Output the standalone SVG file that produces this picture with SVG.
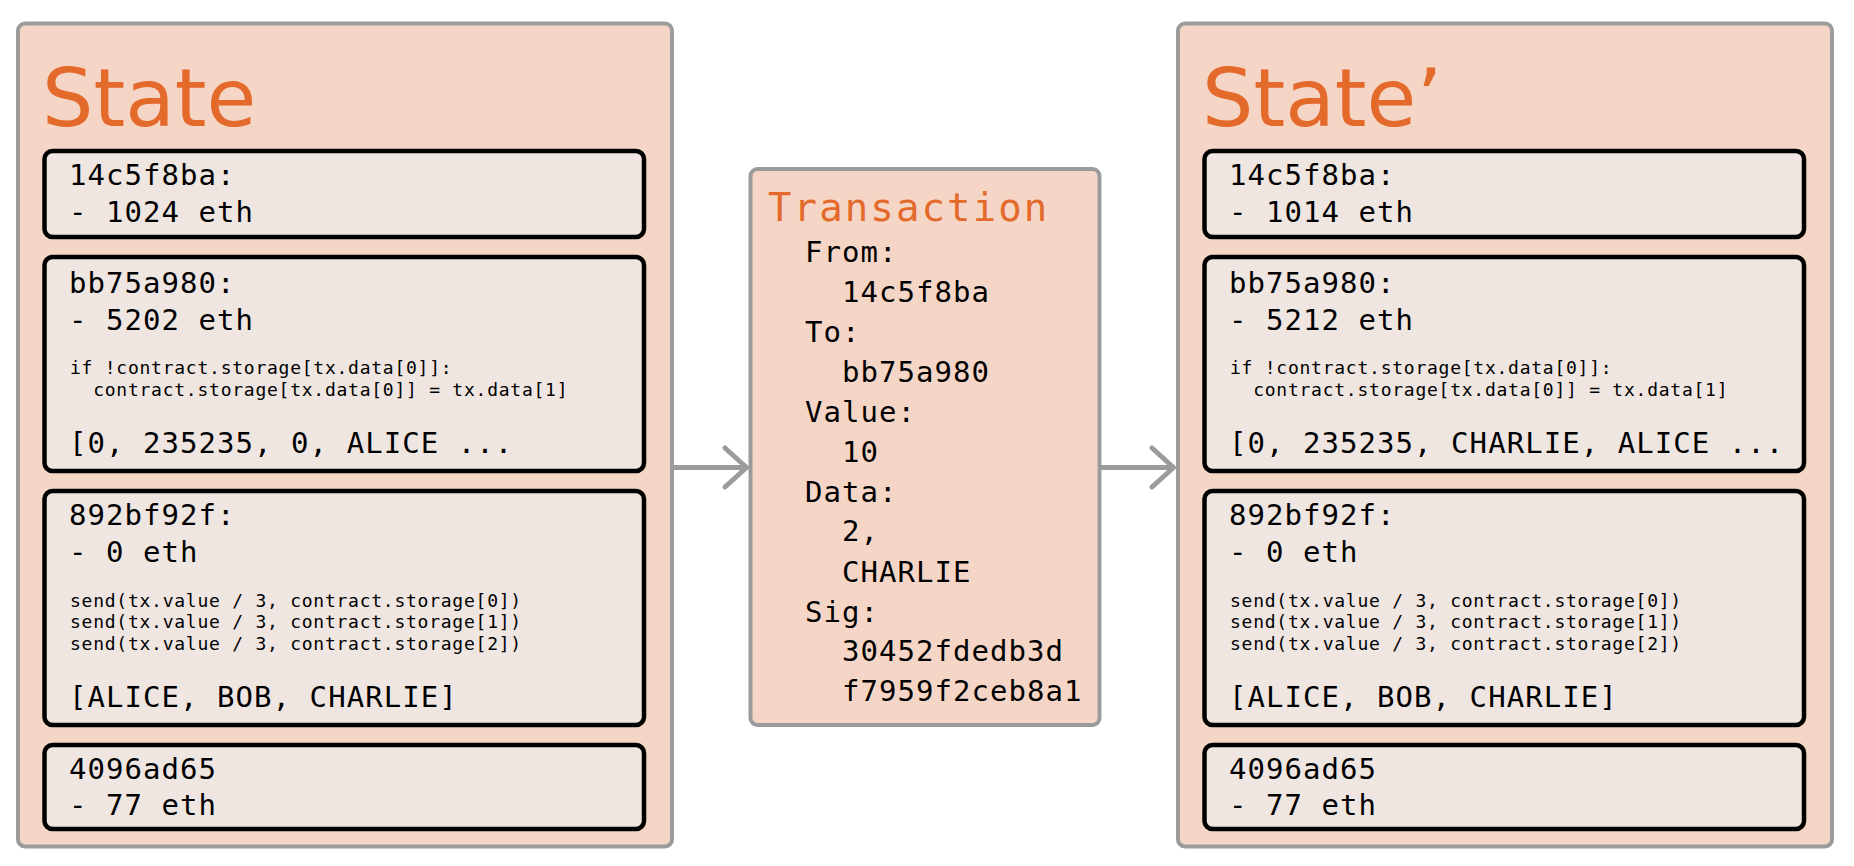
<svg xmlns="http://www.w3.org/2000/svg" width="1854" height="866" viewBox="0 0 1854 866">
<style>
.state{fill:#f5d6c6;stroke:#9b9b9b;stroke-width:4}
.acct{fill:#efe6e2;stroke:#000;stroke-width:4.5}
.title{font-family:"DejaVu Sans",Verdana,sans-serif;font-size:81px;fill:#e36a2a}
.m{font-family:"DejaVu Sans Mono","Liberation Mono",monospace;font-size:29px;letter-spacing:1.05px;fill:#000}
.c{font-size:18px;letter-spacing:0.75px}
.tt{font-family:"DejaVu Sans Mono","Liberation Mono",monospace;font-size:39px;letter-spacing:2.1px;fill:#e36a2a}
.conn{stroke:#9b9b9b;stroke-width:5;fill:none;stroke-linecap:round;stroke-linejoin:round}
</style>
<rect width="1854" height="866" fill="#fff"/>

<g id="connectors">
  <path class="conn" d="M672,467.5 H746"/>
  <path class="conn" d="M725,448 L746.5,467.5 L725,487"/>
  <path class="conn" d="M1099.5,467.5 H1173"/>
  <path class="conn" d="M1152,448 L1173.5,467.5 L1152,487"/>
</g>

<g id="state">
  <rect class="state" x="18" y="23.5" width="654" height="823" rx="7"/>
  <text class="title" x="42" y="126">State</text>
  <g id="state-14c5f8ba">
    <rect class="acct" x="44.5" y="151" width="599.5" height="86" rx="8"/>
    <text class="m" x="69" y="185">14c5f8ba:</text>
    <text class="m" x="69" y="221.5">- 1024 eth</text>
  </g>
  <g id="state-bb75a980">
    <rect class="acct" x="44.5" y="257" width="599.5" height="214" rx="8"/>
    <text class="m" x="69" y="293.3">bb75a980:</text>
    <text class="m" x="69" y="329.5">- 5202 eth</text>
    <text class="m c" x="70" y="374" xml:space="preserve">if !contract.storage[tx.data[0]]:</text>
    <text class="m c" x="70" y="395.7" xml:space="preserve">  contract.storage[tx.data[0]] = tx.data[1]</text>
    <text class="m" x="69" y="453">[0, 235235, 0, ALICE ...</text>
  </g>
  <g id="state-892bf92f">
    <rect class="acct" x="44.5" y="491" width="599.5" height="234" rx="8"/>
    <text class="m" x="69" y="525">892bf92f:</text>
    <text class="m" x="69" y="561.7">- 0 eth</text>
    <text class="m c" x="70" y="606.7">send(tx.value / 3, contract.storage[0])</text>
    <text class="m c" x="70" y="628.3">send(tx.value / 3, contract.storage[1])</text>
    <text class="m c" x="70" y="650">send(tx.value / 3, contract.storage[2])</text>
    <text class="m" x="69" y="706.7">[ALICE, BOB, CHARLIE]</text>
  </g>
  <g id="state-4096ad65">
    <rect class="acct" x="44.5" y="745" width="599.5" height="84" rx="8"/>
    <text class="m" x="69" y="779.3">4096ad65</text>
    <text class="m" x="69" y="815">- 77 eth</text>
  </g>
</g>

<g id="transaction">
  <rect class="state" x="750.5" y="169" width="349" height="556" rx="7"/>
  <text class="tt" x="768" y="221">Transaction</text>
  <text class="m" x="805" y="261.7">From:</text>
  <text class="m" x="842" y="301.7">14c5f8ba</text>
  <text class="m" x="805" y="341.7">To:</text>
  <text class="m" x="842" y="381.7">bb75a980</text>
  <text class="m" x="805" y="421.7">Value:</text>
  <text class="m" x="842" y="461.7">10</text>
  <text class="m" x="805" y="501.7">Data:</text>
  <text class="m" x="842" y="541">2,</text>
  <text class="m" x="842" y="581.7">CHARLIE</text>
  <text class="m" x="805" y="621.7">Sig:</text>
  <text class="m" x="842" y="661">30452fdedb3d</text>
  <text class="m" x="842" y="700.5">f7959f2ceb8a1</text>
</g>

<g id="state-prime">
  <rect class="state" x="1178" y="23.5" width="654" height="823" rx="7"/>
  <text class="title" x="1202" y="126">State’</text>
  <g id="state-prime-14c5f8ba">
    <rect class="acct" x="1204.5" y="151" width="599.5" height="86" rx="8"/>
    <text class="m" x="1229" y="185">14c5f8ba:</text>
    <text class="m" x="1229" y="221.5">- 1014 eth</text>
  </g>
  <g id="state-prime-bb75a980">
    <rect class="acct" x="1204.5" y="257" width="599.5" height="214" rx="8"/>
    <text class="m" x="1229" y="293.3">bb75a980:</text>
    <text class="m" x="1229" y="329.5">- 5212 eth</text>
    <text class="m c" x="1230" y="374" xml:space="preserve">if !contract.storage[tx.data[0]]:</text>
    <text class="m c" x="1230" y="395.7" xml:space="preserve">  contract.storage[tx.data[0]] = tx.data[1]</text>
    <text class="m" x="1229" y="453">[0, 235235, CHARLIE, ALICE ...</text>
  </g>
  <g id="state-prime-892bf92f">
    <rect class="acct" x="1204.5" y="491" width="599.5" height="234" rx="8"/>
    <text class="m" x="1229" y="525">892bf92f:</text>
    <text class="m" x="1229" y="561.7">- 0 eth</text>
    <text class="m c" x="1230" y="606.7">send(tx.value / 3, contract.storage[0])</text>
    <text class="m c" x="1230" y="628.3">send(tx.value / 3, contract.storage[1])</text>
    <text class="m c" x="1230" y="650">send(tx.value / 3, contract.storage[2])</text>
    <text class="m" x="1229" y="706.7">[ALICE, BOB, CHARLIE]</text>
  </g>
  <g id="state-prime-4096ad65">
    <rect class="acct" x="1204.5" y="745" width="599.5" height="84" rx="8"/>
    <text class="m" x="1229" y="779.3">4096ad65</text>
    <text class="m" x="1229" y="815">- 77 eth</text>
  </g>
</g>
</svg>
